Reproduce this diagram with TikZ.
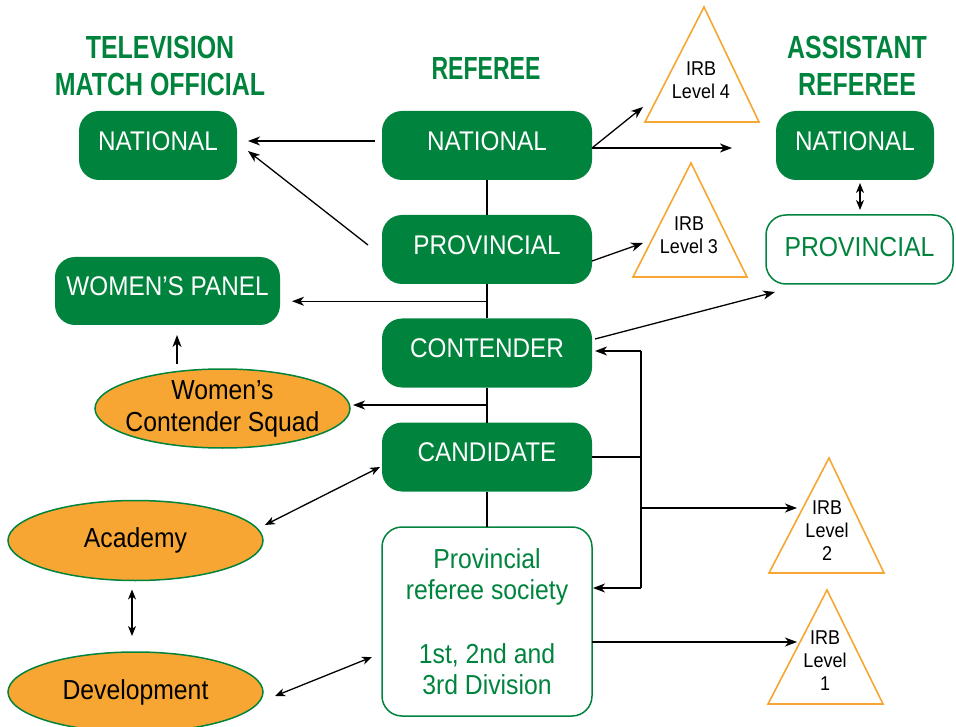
\documentclass[tikz,border=0pt]{standalone}
\usepackage{fontspec}
\setmainfont{Liberation Sans}[FakeStretch=0.9]
\newfontfamily\headfont{Liberation Sans}[FakeStretch=0.78]
\usetikzlibrary{arrows.meta,calc,shapes.geometric}
\definecolor{rugbygreen}{RGB}{0,132,61}
\definecolor{squadorange}{RGB}{247,166,51}

\begin{document}
\begin{tikzpicture}[x=1pt,y=-1pt,
  every node/.style={inner sep=0pt, outer sep=0pt},
  levelbox/.style={rounded corners=20pt, fill=rugbygreen, text=white,
    minimum width=210pt, minimum height=69pt,
    font=\fontsize{27}{31}\selectfont, text height=19.5pt, text depth=10pt},
  openbox/.style={rounded corners=20pt, draw=rugbygreen, line width=1.5pt,
    fill=white, text=rugbygreen, minimum width=210pt, minimum height=69pt,
    font=\fontsize{27.5}{31}\selectfont, align=center},
  squad/.style={ellipse, draw=rugbygreen, line width=1.5pt, fill=squadorange,
    minimum width=255pt, minimum height=80pt, inner sep=-14pt, align=center,
    font=\fontsize{27.5}{32}\selectfont},
  heading/.style={text=rugbygreen, align=center,
    font=\headfont\bfseries\fontsize{32}{37}\selectfont},
  irbtri/.style={draw=squadorange, line width=1.6pt, fill=white, line join=miter},
  irbtext/.style={font=\fontsize{20}{23}\selectfont, align=center},
  link/.style={line width=1.3pt},
  arr/.style={line width=1.3pt, -{Stealth[length=12pt,width=9pt,inset=3.5pt]}},
  dbl/.style={line width=1.3pt,
    {Stealth[length=10pt,width=8pt,inset=3pt]}-{Stealth[length=10pt,width=8pt,inset=3pt]}}
]
\useasboundingbox (0,0) rectangle (956,727);

% column headings
\node[heading] (tmohead) at (160,65.5) {TELEVISION\\MATCH OFFICIAL};
\node[heading, font=\headfont\bfseries\fontsize{32}{37}\selectfont\addfontfeature{FakeStretch=0.72}] (refhead) at (486,68.5) {REFEREE};
\node[heading] (arhead)  at (857,65.5) {ASSISTANT\\REFEREE};

% IRB level triangles
\coordinate (t4a) at (704,7);   \coordinate (t4b) at (759,122); \coordinate (t4c) at (645,122);
\coordinate (t3a) at (691,163); \coordinate (t3b) at (747,277); \coordinate (t3c) at (633,277);
\coordinate (t2a) at (829,458); \coordinate (t2b) at (884,573); \coordinate (t2c) at (769,573);
\coordinate (t1a) at (827,590); \coordinate (t1b) at (883,704); \coordinate (t1c) at (768,704);
\draw[irbtri] (t4a) -- (t4b) -- (t4c) -- cycle;
\draw[irbtri] (t3a) -- (t3b) -- (t3c) -- cycle;
\draw[irbtri] (t2a) -- (t2b) -- (t2c) -- cycle;
\draw[irbtri] (t1a) -- (t1b) -- (t1c) -- cycle;
\node[irbtext] (irb4) at (701,80.5) {IRB\\Level 4};
\node[irbtext] (irb3) at (689,235.5) {IRB\\Level 3};
\node[irbtext] (irb2) at (827,531) {IRB\\Level\\2};
\node[irbtext] (irb1) at (825,661) {IRB\\Level\\1};
\coordinate (l4in) at (643,107);
\coordinate (l3in) at (643,243);
\coordinate (l2in) at (797,508);
\coordinate (l1in) at (797,642);

% referee pathway
\node[levelbox] (refnat)    at (487,145.5) {NATIONAL};
\node[levelbox] (refprov)   at (487,249.5) {PROVINCIAL};
\node[levelbox] (contender) at (487,353)   {CONTENDER};
\node[levelbox] (candidate) at (487,457)   {CANDIDATE};
\node[openbox, minimum height=189pt] (society) at (487,621.5)
  {Provincial\\referee society\\[33pt]1st, 2nd and\\3rd Division};

% television match official and women's panel
\node[levelbox, minimum width=158pt] (tmonat) at (158,145.5) {NATIONAL};
\node[levelbox, minimum width=225pt, minimum height=68pt] (wpanel) at (167.5,291) {WOMEN’S PANEL};

% assistant referee
\node[levelbox, minimum width=158pt] (arnat) at (855,145.5) {NATIONAL};
\node[openbox, minimum width=187pt, text height=19.5pt, text depth=6pt] (arprov) at (859.5,249.5) {PROVINCIAL};

% development squads
\node[squad, minimum height=79pt] (wcs) at (222.5,408.5) {Women’s\\Contender Squad};
\node[squad] (academy)     at (135.5,540.5) {Academy};
\node[squad] (development) at (135.5,692)   {Development};

% central spine
\draw[link] (refnat) -- (refprov);
\draw[link] (refprov) -- (contender);
\draw[link] (contender) -- (candidate);
\draw[link] (candidate) -- (society);

% branches to the left
\coordinate (spw) at ($(refprov.south)!0.5!(contender.north)$);
\coordinate (spc) at ($(contender.south)!0.5!(candidate.north)$);
\draw[arr] (spw) -- ([xshift=12pt]wpanel.east |- spw);
\draw[arr] (spc) -- ([xshift=3pt]wcs.east |- spc);
\draw[arr] ([xshift=-45.5pt,yshift=5pt]wcs.north) -- ([xshift=9.5pt,yshift=-10pt]wpanel.south);
\draw[arr] ([xshift=-7pt,yshift=4.5pt]refnat.west) -- ([xshift=11pt,yshift=4.5pt]tmonat.east);
\draw[arr] ([xshift=-14pt,yshift=4.5pt]refprov.west) -- ([xshift=11pt,yshift=-5.5pt]tmonat.east);
\draw[dbl] ([xshift=2pt,yshift=15.5pt]academy.east) -- ([xshift=-2pt,yshift=-10pt]candidate.west);
\draw[dbl] ([xshift=-3.5pt,yshift=-9pt]academy.south) -- ([xshift=-3.5pt,yshift=16pt]development.north);
\draw[dbl] ([xshift=12pt,yshift=-4pt]development.east) -- ([xshift=-10pt,yshift=-35.5pt]society.west);

% branches to the right
\draw[arr] ([yshift=-2.5pt]refnat.east) -- (l4in);
\draw[arr] ([yshift=-2.5pt]refnat.east) -- ([xshift=-44pt,yshift=-2.5pt]arnat.west);
\draw[dbl] ([xshift=5pt,yshift=-3pt]arnat.south) -- ([xshift=0.5pt,yshift=5pt]arprov.north);
\draw[arr] ([yshift=-11.5pt]refprov.east) -- (l3in);
\draw[arr] ([xshift=3pt,yshift=14pt]contender.east) -- ([xshift=9pt,yshift=-8pt]arprov.south west);

% feedback bus on the right
\coordinate (bt) at ([xshift=49pt,yshift=2pt]contender.east);
\coordinate (sa) at ([yshift=33.5pt]society.east);
\coordinate (bb) at (bt |- sa);
\draw[arr] (bt) -- ([xshift=3pt,yshift=2pt]contender.east);
\draw[link] (bt) -- (bb);
\draw[arr] (bb) -- ([xshift=1pt]sa);
\draw[link] (candidate.east) -- (candidate.east -| bt);
\draw[arr] (bt |- l2in) -- (l2in);
\draw[arr] ([yshift=-20.5pt]society.east) -- (l1in);
\end{tikzpicture}
\end{document}
